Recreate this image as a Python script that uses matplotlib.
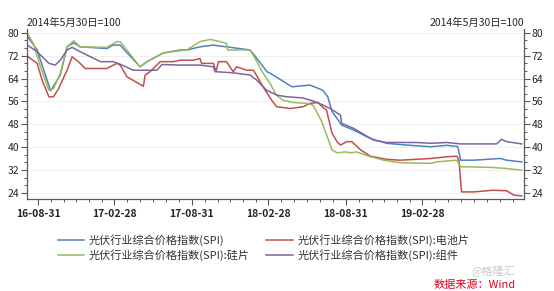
import matplotlib
matplotlib.use('Agg')
import matplotlib.pyplot as plt
import matplotlib.dates as mdates
from matplotlib.ticker import FixedLocator
import numpy as np
import pandas as pd

plt.rcParams['font.family'] = ['Noto Sans CJK SC', 'DejaVu Sans']

# values (index, 2014-05-30 = 100)
spi_dates = ['2016-08-06', '2016-08-29', '2016-09-30', '2016-10-23', '2016-11-08', '2016-11-24',
             '2016-12-09', '2017-02-11', '2017-02-25', '2017-03-14', '2017-03-31', '2017-04-30',
             '2017-05-17', '2017-06-24', '2017-08-03', '2017-08-20', '2017-09-19', '2017-10-20',
             '2017-12-06', '2018-01-16', '2018-02-01', '2018-02-25', '2018-03-14', '2018-04-25',
             '2018-06-07', '2018-07-07', '2018-07-19', '2018-07-29', '2018-08-21', '2018-09-19',
             '2018-10-28', '2018-12-06', '2019-01-22', '2019-03-20', '2019-04-27', '2019-05-23',
             '2019-05-30', '2019-06-30', '2019-09-01', '2019-09-16', '2019-10-22']
spi_values = [78.8, 74.0, 59.7, 65.2, 75.1, 76.5, 75.1, 74.5, 75.7, 75.7, 72.9, 68.1,
              69.9, 72.9, 74.0, 74.0, 75.1, 75.7, 74.8, 74.0, 71.0, 66.4, 65.0, 61.1,
              61.7, 59.9, 57.6, 52.5, 47.7, 45.9, 43.0, 41.3, 40.7, 40.1, 40.6, 40.2,
              35.4, 35.4, 36.0, 35.4, 34.8]

wafer_dates = ['2016-08-06', '2016-08-20', '2016-09-06', '2016-09-26', '2016-10-07', '2016-10-23',
               '2016-11-08', '2016-11-24', '2016-12-09', '2017-02-10', '2017-03-06', '2017-03-14',
               '2017-03-30', '2017-04-30', '2017-05-16', '2017-06-24', '2017-08-19', '2017-09-19',
               '2017-10-13', '2017-11-06', '2017-11-21', '2017-11-23', '2018-01-16', '2018-01-28',
               '2018-02-13', '2018-03-04', '2018-03-19', '2018-04-04', '2018-04-28', '2018-05-30',
               '2018-06-14', '2018-07-03', '2018-07-17', '2018-07-29', '2018-08-10', '2018-08-30',
               '2018-09-11', '2018-09-26', '2018-10-28', '2018-11-29', '2019-01-07', '2019-03-20',
               '2019-04-03', '2019-05-21', '2019-05-30', '2019-08-08', '2019-09-16', '2019-10-22']
wafer_values = [79.8, 76.3, 68.1, 59.9, 60.5, 65.8, 75.1, 77.2, 75.1, 74.9, 76.9, 76.9,
                73.9, 68.1, 69.9, 73.0, 74.0, 76.9, 77.7, 76.9, 76.3, 74.0, 74.0, 71.0,
                66.5, 62.3, 58.2, 56.4, 55.6, 55.3, 54.7, 49.5, 44.0, 39.0, 38.0, 38.3,
                38.0, 38.3, 36.6, 35.4, 34.5, 34.3, 34.8, 35.4, 33.1, 32.9, 32.5, 31.9]

cell_dates = ['2016-08-06', '2016-08-29', '2016-09-10', '2016-09-26', '2016-10-07', '2016-10-19',
              '2016-11-08', '2016-11-20', '2016-12-05', '2016-12-21', '2017-02-10', '2017-03-06',
              '2017-03-14', '2017-03-30', '2017-05-08', '2017-05-12', '2017-05-24', '2017-06-17',
              '2017-07-18', '2017-08-03', '2017-09-03', '2017-09-19', '2017-09-23', '2017-10-21',
              '2017-10-27', '2017-11-02', '2017-11-21', '2017-11-29', '2017-12-07', '2017-12-15',
              '2018-01-08', '2018-01-24', '2018-02-16', '2018-03-08', '2018-03-20', '2018-04-21',
              '2018-05-21', '2018-06-07', '2018-06-26', '2018-07-08', '2018-07-16', '2018-07-29',
              '2018-08-10', '2018-08-18', '2018-09-02', '2018-09-14', '2018-10-05', '2018-10-28',
              '2018-12-06', '2019-01-07', '2019-03-20', '2019-04-27', '2019-05-21', '2019-05-26',
              '2019-06-01', '2019-06-30', '2019-08-16', '2019-09-16', '2019-10-03', '2019-10-22']
cell_values = [71.8, 69.3, 63.4, 57.6, 57.6, 60.5, 66.9, 71.6, 69.9, 67.5, 67.5, 69.3,
               68.7, 64.6, 61.3, 65.2, 66.4, 69.9, 69.9, 70.4, 70.4, 71.0, 69.3, 69.3,
               66.4, 69.9, 69.9, 68.1, 66.4, 68.1, 66.9, 66.9, 61.0, 56.4, 54.1, 53.5,
               54.1, 55.3, 55.6, 53.8, 53.0, 44.9, 41.9, 40.7, 41.9, 41.9, 39.0, 36.8,
               35.7, 35.4, 36.0, 36.6, 36.8, 35.4, 24.3, 24.3, 24.9, 24.7, 23.2, 22.9]

module_dates = ['2016-08-06', '2016-08-29', '2016-09-26', '2016-10-11', '2016-10-23', '2016-11-08',
                '2016-11-20', '2016-12-09', '2017-01-26', '2017-02-26', '2017-03-14', '2017-04-14',
                '2017-06-09', '2017-06-21', '2017-08-03', '2017-09-19', '2017-10-21', '2017-10-25',
                '2017-12-07', '2018-01-16', '2018-02-01', '2018-02-24', '2018-03-20', '2018-04-13',
                '2018-05-21', '2018-06-15', '2018-07-08', '2018-07-28', '2018-08-18', '2018-08-21',
                '2018-09-19', '2018-11-05', '2018-12-06', '2019-02-15', '2019-03-20', '2019-04-27',
                '2019-05-30', '2019-08-23', '2019-09-04', '2019-09-16', '2019-10-22']
module_values = [75.7, 73.4, 69.3, 68.7, 70.4, 74.0, 74.9, 73.4, 69.9, 69.9, 69.0, 66.9,
                 66.9, 68.9, 68.7, 68.7, 68.1, 66.4, 66.0, 65.2, 63.4, 59.9, 58.2, 57.6,
                 57.2, 56.1, 54.7, 53.2, 51.2, 48.3, 46.5, 42.4, 41.6, 41.6, 41.3, 41.6,
                 41.1, 41.1, 42.7, 41.9, 41.1]

labels = ['光伏行业综合价格指数(SPI)', '光伏行业综合价格指数(SPI):电池片',
          '光伏行业综合价格指数(SPI):硅片', '光伏行业综合价格指数(SPI):组件']
colors = ['#4F81BD', '#C0504D', '#9BBB59', '#8064A2']

major_ticks = ['2016-08-31', '2017-02-28', '2017-08-31', '2018-02-28', '2018-08-31', '2019-02-28']

fig = plt.figure(figsize=(5.54, 2.91), dpi=100)
ax = fig.add_axes([0.0487, 0.316, 0.897, 0.584])

series = [(spi_dates, spi_values), (cell_dates, cell_values),
          (wafer_dates, wafer_values), (module_dates, module_values)]
handles = []
for (d, v), lab, c in zip(series, labels, colors):
    h, = ax.plot(pd.to_datetime(d), v, color=c, lw=1.1, label=lab)
    handles.append(h)

ax.set_xlim(pd.Timestamp('2016-08-05'), pd.Timestamp('2019-10-27'))
ax.set_ylim(21.8, 81.3)

ax.yaxis.set_major_locator(FixedLocator([24, 32, 40, 48, 56, 64, 72, 80]))
ax.yaxis.set_minor_locator(FixedLocator(list(np.arange(24, 81, 8 / 3))))
ax.grid(axis='y', which='major', color='#EBEBEB', lw=0.6)
ax.set_axisbelow(True)

month_ends = pd.date_range('2016-08-31', '2019-10-31', freq='ME')
ax.xaxis.set_major_locator(FixedLocator(mdates.date2num(pd.to_datetime(major_ticks))))
ax.xaxis.set_minor_locator(FixedLocator(mdates.date2num(month_ends)))
ax.xaxis.set_major_formatter(mdates.DateFormatter('%y-%m-%d'))

for s in ['left', 'right', 'bottom']:
    ax.spines[s].set_color('#595959')
    ax.spines[s].set_linewidth(0.9)
ax.spines['top'].set_visible(False)

ax.tick_params(axis='both', which='major', length=4, width=0.8, color='#595959',
               labelsize=7.5, labelcolor='#262626', pad=1.5)
ax.tick_params(axis='both', which='minor', length=2.5, width=0.7, color='#595959')
ax.tick_params(axis='y', which='both', left=True, right=True, labelleft=True, labelright=True)
ax.tick_params(axis='x', which='major', pad=3)
for t in ax.get_xticklabels():
    t.set_fontweight('bold')

ax.text(0.0, 1.005, '2014年5月30日=100', transform=ax.transAxes, fontsize=7.5,
        color='#262626', ha='left', va='bottom')
ax.text(1.0, 1.005, '2014年5月30日=100', transform=ax.transAxes, fontsize=7.5,
        color='#262626', ha='right', va='bottom')

# legend is filled row by row in the reference: reorder for matplotlib's column fill
order = [0, 2, 1, 3]
fig.legend([handles[i] for i in order], [labels[i] for i in order], ncol=2,
           loc='upper left', bbox_to_anchor=(0.104, 0.195),
           frameon=False, fontsize=8, handlelength=2.4, handletextpad=0.4,
           columnspacing=1.5, labelspacing=0.3, borderaxespad=0, borderpad=0,
           labelcolor='#333333')

fig.text(0.93, 0.066, '@格隆汇', fontsize=8, color='#C8C8C8', ha='right', va='center')
fig.text(0.93, 0.022, '数据来源：Wind', fontsize=8, color='#E8001E', ha='right',
         va='center', style='italic')

fig.savefig('out.png', dpi=100)
